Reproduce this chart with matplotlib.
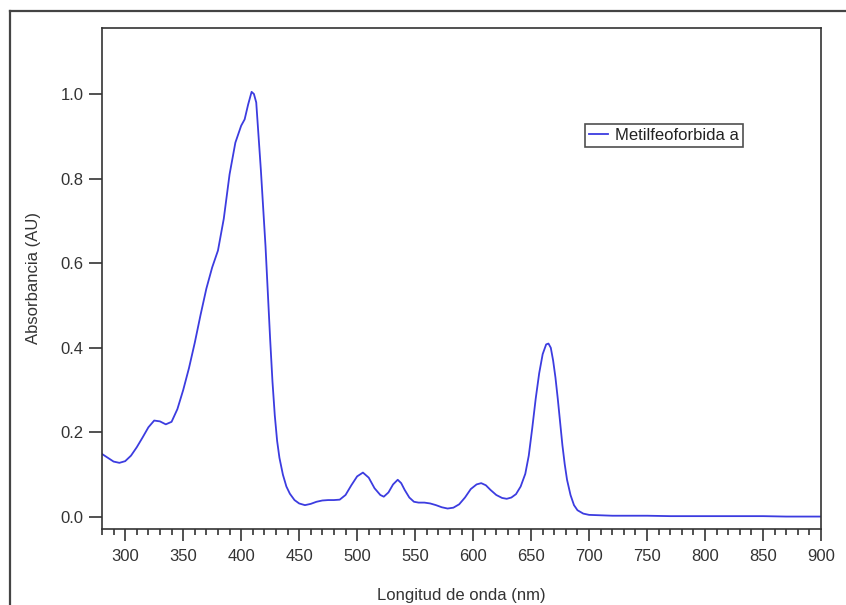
import matplotlib
matplotlib.use("Agg")
import matplotlib.pyplot as plt
from matplotlib.lines import Line2D
from matplotlib.ticker import MultipleLocator

wavelength = [280, 285, 290, 295, 300, 305, 310, 315, 320, 325, 330, 335, 340, 345,
              350, 355, 360, 365, 370, 375, 380, 385, 390, 395, 400, 403, 406, 409,
              411, 413, 415, 417, 419, 421, 423, 425, 427, 429, 431, 433, 436, 439,
              442, 446, 450, 455, 460, 465, 470, 475, 480, 485, 490, 495, 500, 505,
              510, 515, 520, 523, 527, 531, 535, 538, 541, 545, 549, 553, 558, 563,
              568, 573, 578, 583, 588, 593, 598, 603, 607, 611, 615, 620, 625, 629,
              633, 637, 641, 645, 648, 651, 654, 657, 660, 663, 665, 667, 669, 671,
              673, 675, 677, 679, 681, 684, 687, 690, 695, 700, 710, 720, 730, 750,
              770, 800, 830, 850, 870, 900]
absorbance = [0.149, 0.140, 0.131, 0.128, 0.132, 0.145, 0.165, 0.188, 0.212, 0.228,
              0.226, 0.219, 0.225, 0.255, 0.300, 0.352, 0.412, 0.478, 0.540, 0.590,
              0.630, 0.705, 0.810, 0.885, 0.925, 0.940, 0.975, 1.005, 1.000, 0.980,
              0.900, 0.820, 0.730, 0.640, 0.530, 0.420, 0.320, 0.240, 0.180, 0.140,
              0.100, 0.072, 0.055, 0.040, 0.032, 0.028, 0.031, 0.036, 0.039, 0.040,
              0.040, 0.041, 0.052, 0.075, 0.096, 0.105, 0.093, 0.068, 0.052, 0.048,
              0.058, 0.077, 0.088, 0.080, 0.064, 0.046, 0.036, 0.034, 0.034, 0.032,
              0.028, 0.023, 0.020, 0.022, 0.030, 0.046, 0.066, 0.077, 0.080, 0.075,
              0.064, 0.052, 0.045, 0.043, 0.046, 0.054, 0.072, 0.102, 0.145, 0.210,
              0.280, 0.340, 0.385, 0.408, 0.410, 0.400, 0.370, 0.330, 0.280, 0.225,
              0.170, 0.125, 0.088, 0.052, 0.028, 0.016, 0.008, 0.005, 0.004, 0.003,
              0.003, 0.003, 0.002, 0.002, 0.002, 0.002, 0.001, 0.001]
series_label = "Metilfeoforbida a"
xlabel = "Longitud de onda (nm)"
ylabel = "Absorbancia (AU)"
xticks = [300, 350, 400, 450, 500, 550, 600, 650, 700, 750, 800, 850, 900]
yticks = [0.0, 0.2, 0.4, 0.6, 0.8, 1.0]

plt.rcParams['font.family'] = ['Liberation Sans', 'DejaVu Sans']
W, H = 846, 605
FS = 12
fig = plt.figure(figsize=(W / 100, H / 100), dpi=100)
fig.patch.set_facecolor('white')

# outer frame (left and top edges visible)
fx = 9.5 / W
fy = 1 - 10.5 / H
fig.add_artist(Line2D([fx, fx], [0, fy], transform=fig.transFigure, color='#444444', lw=1.6))
fig.add_artist(Line2D([fx, 1], [fy, fy], transform=fig.transFigure, color='#444444', lw=1.6))

ax = fig.add_axes([102 / W, 1 - 529 / H, (821 - 102) / W, (529 - 28) / H])
ax.plot(wavelength, absorbance, color='#3c3ce0', lw=1.3, label=series_label)

ax.set_xlim(280, 900)
ax.set_ylim(-0.0284, 1.156)
ax.set_xticks(xticks)
ax.xaxis.set_minor_locator(MultipleLocator(10))
ax.set_yticks(yticks)
ax.set_yticklabels([f"{v:.1f}" for v in yticks])

for s in ax.spines.values():
    s.set_color('#333333')
    s.set_linewidth(1.2)

ax.tick_params(axis='x', which='major', direction='out', length=8.5, width=1.2,
               color='#333333', labelsize=FS, labelcolor='#333333', pad=6)
ax.tick_params(axis='x', which='minor', direction='out', length=4.3, width=1.2,
               color='#333333')
ax.tick_params(axis='y', which='major', direction='out', length=9.5, width=1.2,
               color='#333333', labelsize=FS, labelcolor='#333333', pad=4)

ax.set_xlabel(xlabel, fontsize=FS, color='#333333', labelpad=17.5)
ax.set_ylabel(ylabel, fontsize=FS, color='#333333', labelpad=14)

leg = ax.legend(loc='upper left', bbox_to_anchor=((585 - 102) / 719, (529 - 124) / 501),
                frameon=True, fancybox=False, fontsize=FS, handlelength=1.1,
                handletextpad=0.45, borderpad=0.25, borderaxespad=0)
leg.get_frame().set_edgecolor('#222222')
leg.get_frame().set_linewidth(1.2)
for t in leg.get_texts():
    t.set_color('#222222')

fig.savefig('out.png', dpi=100)
